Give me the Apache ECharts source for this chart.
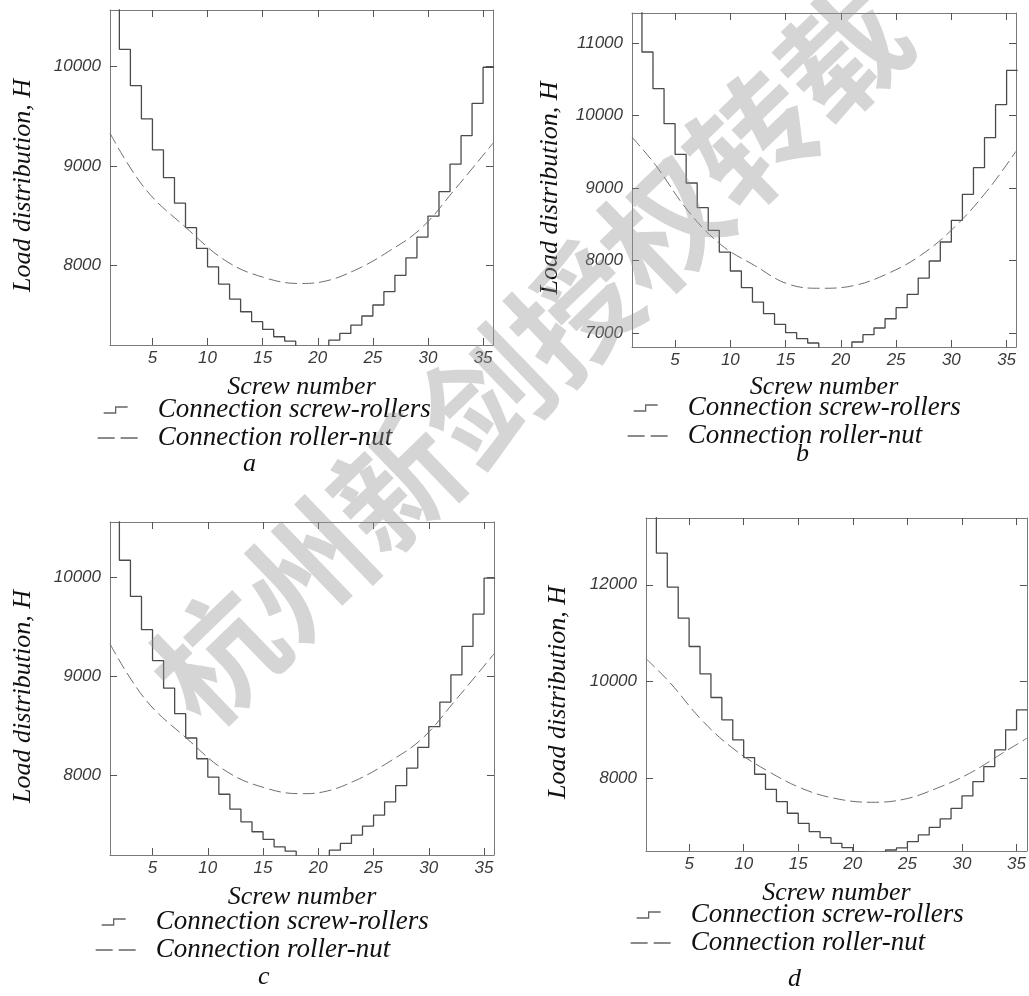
<!DOCTYPE html>
<html>
<head>
<meta charset="utf-8">
<title>Load distribution</title>
<script src="https://cdn.jsdelivr.net/npm/echarts@6/dist/echarts.min.js"></script>
<style>
  html, body { margin: 0; padding: 0; background: #fff; overflow: hidden; }
  #chart { width: 1029px; height: 996px; }
</style>
</head>
<body>
<div id="chart"></div>
<script>
// screw-rollers load, one value per screw (screw n holds from n to n+1)
const rollersA = [10600, 10175, 9809, 9473, 9161, 8882, 8624, 8378, 8168, 7983, 7809, 7658, 7530, 7430, 7352, 7278, 7234,
  7170, 7150, 7170, 7245, 7312, 7396, 7487, 7598, 7732, 7897, 8074, 8283, 8494, 8741, 9017, 9305, 9631, 9994]
const rollersB = [11450, 10876, 10370, 9887, 9464, 9069, 8729, 8416, 8117, 7855, 7625, 7427, 7267, 7119, 7004, 6922, 6862,
  6780, 6760, 6780, 6876, 6977, 7069, 7197, 7349, 7533, 7758, 7993, 8255, 8554, 8913, 9280, 9694, 10149, 10623]
const rollersC = [10600, 10175, 9809, 9473, 9161, 8882, 8624, 8378, 8168, 7983, 7809, 7658, 7530, 7430, 7352, 7278, 7234,
  7170, 7150, 7170, 7245, 7312, 7396, 7487, 7598, 7732, 7897, 8074, 8283, 8494, 8741, 9017, 9305, 9631, 9994]
const rollersD = [13420, 12655, 11952, 11310, 10724, 10159, 9669, 9207, 8793, 8428, 8083, 7772, 7517, 7276, 7069, 6897, 6772,
  6655, 6566, 6470, 6450, 6470, 6517, 6560, 6690, 6828, 6986, 7159, 7379, 7634, 7931, 8241, 8586, 9000, 9414]

// roller-nut load, [screw number, load]
const nutA = [[1.15, 9330], [4.3, 8775], [8.1, 8373], [11.8, 8033], [15.4, 7866], [18.4, 7815], [20.4, 7832],
  [23.4, 7950], [26.4, 8136], [29.4, 8373], [32.4, 8758], [35.9, 9229]]
const nutB = [[1.1, 9701], [3.2, 9323], [6.2, 8679], [9.2, 8212], [12.2, 7931], [15.2, 7677], [18.2, 7617],
  [21.2, 7655], [24.2, 7817], [27.2, 8069], [30.2, 8448], [33.2, 8954], [35.85, 9506]]
const nutC = [[1.15, 9330], [4.3, 8775], [8.1, 8373], [11.8, 8033], [15.4, 7866], [18.4, 7815], [20.4, 7832],
  [23.4, 7950], [26.4, 8136], [29.4, 8373], [32.4, 8758], [35.9, 9229]]
const nutD = [[1.05, 10470], [3.2, 9988], [6.2, 9193], [9.2, 8586], [12.3, 8137], [15.3, 7793], [18.3, 7586],
  [21.7, 7503], [24.7, 7566], [27.7, 7793], [30.7, 8103], [33.7, 8517], [35.95, 8828]]

const xTicks = [5, 10, 15, 20, 25, 30, 35]
const yTicksA = [8000, 9000, 10000]
const yTicksB = [7000, 8000, 9000, 10000, 11000]
const yTicksC = [8000, 9000, 10000]
const yTicksD = [8000, 10000, 12000]

const nameRollers = 'Connection screw-rollers'
const nameNut = 'Connection roller-nut'

const panels = [
  { caption: 'a', rollers: rollersA, nut: nutA, yTicks: yTicksA, xMin: 1.15, xMax: 35.9, yMin: 7195, yMax: 10571,
    left: 110, top: 10, width: 383, height: 335, gapY: 74, gapX: 29, legendLeft: 97, legendTop: 396, capLeft: 243, capTop: 451 },
  { caption: 'b', rollers: rollersB, nut: nutB, yTicks: yTicksB, xMin: 1.1, xMax: 35.85, yMin: 6807, yMax: 11414,
    left: 632, top: 13, width: 384, height: 334, gapY: 69, gapX: 27, legendLeft: 627, legendTop: 394, capLeft: 796, capTop: 441 },
  { caption: 'c', rollers: rollersC, nut: nutC, yTicks: yTicksC, xMin: 1.15, xMax: 35.9, yMin: 7195, yMax: 10562,
    left: 110, top: 522, width: 384, height: 333, gapY: 74, gapX: 29, legendLeft: 95, legendTop: 908, capLeft: 258, capTop: 964 },
  { caption: 'd', rollers: rollersD, nut: nutD, yTicks: yTicksD, xMin: 1.05, xMax: 35.95, yMin: 6496, yMax: 13380,
    left: 646, top: 518, width: 384, height: 333, gapY: 75, gapX: 29, legendLeft: 630, legendTop: 901, capLeft: 788, capTop: 966 }
]

const serif = 'Liberation Serif, Times New Roman, serif'
const tickFont = {
  fontFamily: 'Liberation Sans, Arial, sans-serif',
  fontStyle: 'italic', fontSize: 17, color: '#3a3a3a',
  formatter: (v) => String(v)
}
const nameFont = { fontFamily: serif, fontStyle: 'italic', fontSize: 26, color: '#111' }
// extra right padding pushes the rotated y name a little lower
const yNameFont = Object.assign({ padding: [0, 16, 0, 0] }, nameFont)
const legendFont = { fontFamily: serif, fontStyle: 'italic', fontSize: 27, color: '#111', lineHeight: 28 }
const frameLine = { color: '#7a7a7a', width: 1 }
const stepIcon = 'path://M0,0M55,12M6,9H18V3H30'
const dashIcon = 'path://M0,0M55,12M0,6H17M23,6H40'

function stepData(values) {
  let data = values.map((v, k) => [k + 1, v])
  data.push([values.length + 1, values[values.length - 1]])
  return data
}

let grid = [], xAxis = [], yAxis = [], series = [], legend = [], title = []

panels.forEach((p, i) => {
  grid.push({ left: p.left, top: p.top, width: p.width, height: p.height, containLabel: false })
  let tick = (vals) => ({ show: true, inside: true, length: 7, customValues: vals, lineStyle: { color: '#555', width: 1 } })
  xAxis.push({
    type: 'value', gridIndex: i, position: 'bottom', min: p.xMin, max: p.xMax,
    axisLine: { show: true, onZero: false, lineStyle: frameLine },
    axisTick: tick(xTicks),
    axisLabel: Object.assign({ customValues: xTicks, margin: 5 }, tickFont),
    splitLine: { show: false },
    name: 'Screw number', nameLocation: 'middle', nameGap: p.gapX, nameTextStyle: nameFont
  })
  xAxis.push({
    type: 'value', gridIndex: i, position: 'top', min: p.xMin, max: p.xMax,
    axisLine: { show: true, onZero: false, lineStyle: frameLine },
    axisTick: tick(xTicks), axisLabel: { show: false }, splitLine: { show: false }
  })
  yAxis.push({
    type: 'value', gridIndex: i, position: 'left', min: p.yMin, max: p.yMax,
    axisLine: { show: true, onZero: false, lineStyle: frameLine },
    axisTick: tick(p.yTicks),
    axisLabel: Object.assign({ customValues: p.yTicks, margin: 9 }, tickFont),
    splitLine: { show: false },
    name: 'Load distribution, H', nameLocation: 'middle', nameGap: p.gapY, nameTextStyle: yNameFont
  })
  yAxis.push({
    type: 'value', gridIndex: i, position: 'right', min: p.yMin, max: p.yMax,
    axisLine: { show: true, onZero: false, lineStyle: frameLine },
    axisTick: tick(p.yTicks), axisLabel: { show: false }, splitLine: { show: false }
  })
  series.push({
    name: nameRollers, type: 'line', step: 'end', xAxisIndex: 2 * i, yAxisIndex: 2 * i,
    symbol: 'none', clip: true, data: stepData(p.rollers),
    lineStyle: { color: '#4a4a4a', width: 1.3 }
  })
  series.push({
    name: nameNut, type: 'line', smooth: 0.4, xAxisIndex: 2 * i, yAxisIndex: 2 * i,
    symbol: 'none', clip: true, data: p.nut,
    lineStyle: { color: '#6f6f6f', width: 1, type: [12, 5] }
  })
  legend.push({
    orient: 'vertical', left: p.legendLeft, top: p.legendTop, itemWidth: 55, itemHeight: 12, itemGap: 0,
    selectedMode: false, padding: 0,
    textStyle: legendFont,
    itemStyle: { color: 'rgba(0,0,0,0)', borderColor: '#666', borderWidth: 1.3 },
    data: [{ name: nameRollers, icon: stepIcon }, { name: nameNut, icon: dashIcon }]
  })
  title.push({ text: p.caption, left: p.capLeft, top: p.capTop, padding: 0,
    textStyle: { fontFamily: serif, fontStyle: 'italic', fontWeight: 'normal', fontSize: 26, color: '#111' } })
})

const myChart = echarts.init(document.getElementById('chart'), null, { renderer: 'canvas' })
myChart.setOption({
  animation: false,
  backgroundColor: '#fff',
  grid, xAxis, yAxis, series, legend, title,
  graphic: [{
    type: 'text', x: 530, y: 355, rotation: 44 * Math.PI / 180, z: 100, silent: true,
    style: {
      text: '杭州新剑授权转载', font: 'bold 124px "Noto Sans CJK SC"',
      fill: 'rgba(150,150,150,0.4)', align: 'center', verticalAlign: 'middle'
    }
  }]
})
</script>
</body>
</html>
